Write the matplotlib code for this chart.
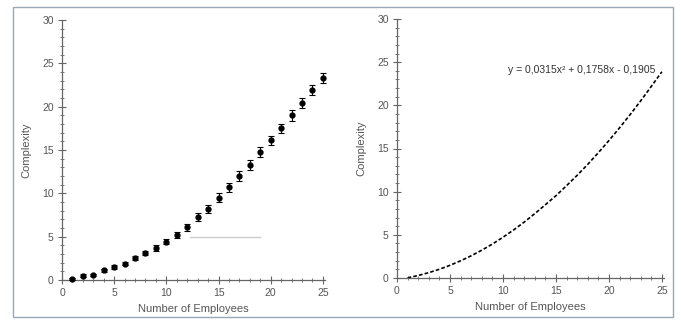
import matplotlib
matplotlib.use('Agg')
import matplotlib.pyplot as plt
from matplotlib.patches import Rectangle
from matplotlib.ticker import MultipleLocator

plt.rcParams['font.family'] = ['Liberation Sans', 'DejaVu Sans']

# Valores
funcionarios = list(range(1, 26))
complexidade = [0.15, 0.5, 0.6, 1.1, 1.5, 1.9, 2.5, 3.1, 3.7, 4.4,
                5.2, 6.1, 7.3, 8.2, 9.5, 10.7, 12.0, 13.3, 14.8, 16.1,
                17.5, 19.0, 20.4, 21.9, 23.3]
erro = [0.12, 0.15, 0.15, 0.18, 0.2, 0.2, 0.22, 0.25, 0.3, 0.3,
        0.35, 0.4, 0.45, 0.45, 0.5, 0.5, 0.55, 0.55, 0.6, 0.55,
        0.55, 0.6, 0.6, 0.6, 0.6]

x_curva = [1, 2, 3, 4, 5, 6, 7, 8, 9, 10, 11, 12, 13,
           14, 15, 16, 17, 18, 19, 20, 21, 22, 23, 24, 25]
y_curva = [0.02, 0.29, 0.62, 1.01, 1.47, 1.99, 2.57, 3.22, 3.93, 4.72,
           5.56, 6.47, 7.45, 8.48, 9.53, 10.69, 11.89, 13.16, 14.51, 15.92,
           17.39, 18.92, 20.52, 22.19, 23.89]
equacao = 'y = 0,0315x² + 0,1758x - 0,1905'

cinza_txt = '#555555'
cinza_eixo = '#666666'

fig = plt.figure(figsize=(6.81, 3.24), dpi=100)
fig.patch.set_facecolor('white')

# moldura externa
fig.add_artist(Rectangle((13 / 681, 1 - 317 / 324), 660 / 681, 310 / 324,
                         transform=fig.transFigure, fill=False,
                         edgecolor='#9aa8b6', linewidth=1.0))

ax1 = fig.add_axes([62 / 681, 1 - 280 / 324, 263 / 681, 260 / 324])
ax2 = fig.add_axes([397 / 681, 1 - 278 / 324, 267 / 681, 259 / 324])


def estilo(ax):
    ax.set_xlim(0, 25.2)
    ax.set_ylim(0, 30)
    ax.set_facecolor('white')
    for s in ['top', 'right']:
        ax.spines[s].set_visible(False)
    for s in ['left', 'bottom']:
        ax.spines[s].set_color(cinza_eixo)
        ax.spines[s].set_linewidth(0.9)
    ax.xaxis.set_major_locator(MultipleLocator(5))
    ax.xaxis.set_minor_locator(MultipleLocator(1))
    ax.yaxis.set_major_locator(MultipleLocator(5))
    ax.yaxis.set_minor_locator(MultipleLocator(1))
    ax.tick_params(which='major', direction='inout', length=6, width=0.8,
                   color=cinza_eixo, labelsize=7.5, labelcolor=cinza_txt, pad=3)
    ax.tick_params(which='minor', direction='inout', length=3, width=0.6,
                   color=cinza_eixo)
    ax.set_xlabel('Number of Employees', fontsize=8, color=cinza_txt, labelpad=4)
    ax.set_ylabel('Complexity', fontsize=8, color=cinza_txt, labelpad=8)


estilo(ax1)
estilo(ax2)

# painel esquerdo: pontos com barras de erro
ax1.plot([12.3, 19], [5, 5], color='#cccccc', linewidth=1.0, zorder=1)
ax1.errorbar(funcionarios, complexidade, yerr=erro, fmt='o', color='black',
             markersize=3.5, elinewidth=0.8, capsize=2.5, capthick=0.8,
             clip_on=False, zorder=3)

# painel direito: curva de tendência
ax2.plot(x_curva, y_curva, linestyle=(0, (2.2, 1.3)), color='black',
         linewidth=1.2, clip_on=False)
ax2.text(24.4, 23.5, equacao, fontsize=7.5, color='#333333',
         ha='right', va='bottom')

plt.savefig('out.png', dpi=100)
